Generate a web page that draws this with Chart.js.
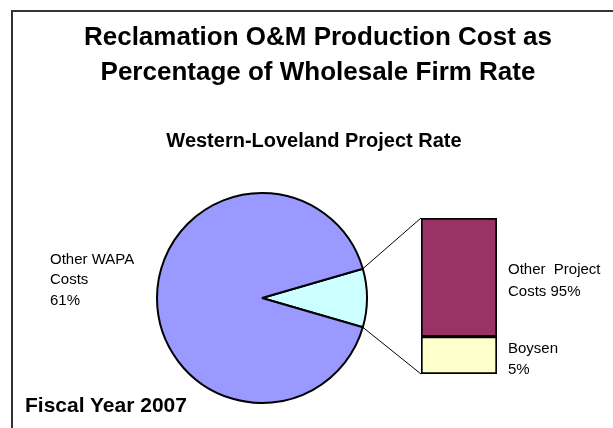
<!DOCTYPE html>
<html>
<head>
<meta charset="utf-8">
<script src="https://cdn.jsdelivr.net/npm/chart.js@4/dist/chart.umd.min.js"></script>
<style>
  html, body { margin: 0; padding: 0; background: #fff; }
  #wrap { position: relative; width: 613px; height: 428px; overflow: hidden; font-family: "Liberation Sans", Arial, sans-serif; color: #000; }
  #frame { position: absolute; left: 11px; top: 10px; width: 700px; height: 500px; border-left: 2px solid #333; border-top: 2px solid #333; }
  .t { position: absolute; white-space: pre; }
  #title { left: 0; width: 636px; top: 19px; text-align: center; font-weight: bold; font-size: 26px; line-height: 35px; }
  #sub { left: 0; width: 628px; top: 130px; text-align: center; font-weight: bold; font-size: 20px; line-height: 20px; }
  #fy { left: 25px; top: 394px; font-weight: bold; font-size: 21px; line-height: 21px; }
  #lblPie { left: 50px; top: 248.5px; font-size: 15px; line-height: 20.5px; }
  #lblTop { left: 508px; top: 258px; font-size: 15px; line-height: 22px; }
  #lblBot { left: 508px; top: 337px; font-size: 15px; line-height: 21px; }
  canvas { position: absolute; }
</style>
</head>
<body>
<div id="wrap">
  <div id="frame"></div>
  <canvas id="pie" width="212" height="212" style="left:156px;top:192px;width:212px;height:212px"></canvas>
  <canvas id="bar" width="78" height="158" style="left:420px;top:217px;width:78px;height:158px"></canvas>
  <canvas id="links" width="613" height="428" style="left:0;top:0;width:613px;height:428px"></canvas>
  <div class="t" id="title">Reclamation O&amp;M Production Cost as
Percentage of Wholesale Firm Rate</div>
  <div class="t" id="sub">Western-Loveland Project Rate</div>
  <div class="t" id="fy">Fiscal Year 2007</div>
  <div class="t" id="lblPie">Other WAPA
Costs
61%</div>
  <div class="t" id="lblTop">Other  Project
Costs 95%</div>
  <div class="t" id="lblBot">Boysen
5%</div>
</div>
<script>
// ---- data ----
const pieCategories = ["Western-Loveland Project", "Other WAPA Costs"];
const pieValues = [9, 91];
const barCategories = ["Project Rate"];
const barSeriesNames = ["Boysen", "Other Project Costs"];
const boysenValues = [24];
const otherProjectValues = [76];

const pieChart = new Chart(document.getElementById('pie'), {
  type: 'pie',
  data: {
    labels: pieCategories,
    datasets: [{
      data: pieValues,
      backgroundColor: ['#CCFFFF', '#9999FF'],
      borderColor: '#000',
      borderWidth: 2
    }]
  },
  options: {
    responsive: false,
    animation: false,
    rotation: 90 - 16.2,
    layout: { padding: 0 },
    plugins: { legend: { display: false }, tooltip: { enabled: false }, title: { display: false } }
  }
});

const barChart = new Chart(document.getElementById('bar'), {
  type: 'bar',
  data: {
    labels: barCategories,
    datasets: [
      { label: barSeriesNames[0], data: boysenValues, backgroundColor: '#FFFFCC', borderColor: '#000', borderWidth: 2, borderSkipped: false },
      { label: barSeriesNames[1], data: otherProjectValues, backgroundColor: '#993366', borderColor: '#000', borderWidth: 2, borderSkipped: false }
    ]
  },
  options: {
    responsive: false,
    animation: false,
    layout: { padding: 1 },
    datasets: { bar: { categoryPercentage: 1, barPercentage: 1 } },
    scales: {
      x: { stacked: true, display: false },
      y: { stacked: true, display: false, min: 0, max: 100 }
    },
    plugins: { legend: { display: false }, tooltip: { enabled: false } }
  }
});

// connector lines between the pie slice and the bar, from library geometry
(function drawLinks() {
  const pieCanvas = document.getElementById('pie');
  const barCanvas = document.getElementById('bar');
  const pOff = { x: pieCanvas.offsetLeft, y: pieCanvas.offsetTop };
  const bOff = { x: barCanvas.offsetLeft, y: barCanvas.offsetTop };
  const arc = pieChart.getDatasetMeta(0).data[0];
  const p = arc.getProps(['x', 'y', 'startAngle', 'endAngle', 'outerRadius'], true);
  const topBar = barChart.getDatasetMeta(1).data[0].getProps(['x', 'y', 'base', 'width'], true);
  const botBar = barChart.getDatasetMeta(0).data[0].getProps(['x', 'y', 'base', 'width'], true);
  const ctx = document.getElementById('links').getContext('2d');
  ctx.strokeStyle = '#000';
  ctx.lineWidth = 1;
  const sx1 = pOff.x + p.x + p.outerRadius * Math.cos(p.startAngle);
  const sy1 = pOff.y + p.y + p.outerRadius * Math.sin(p.startAngle);
  const sx2 = pOff.x + p.x + p.outerRadius * Math.cos(p.endAngle);
  const sy2 = pOff.y + p.y + p.outerRadius * Math.sin(p.endAngle);
  const tx = bOff.x + topBar.x - topBar.width / 2;
  const ty = bOff.y + topBar.y;
  const bx = bOff.x + botBar.x - botBar.width / 2;
  const by = bOff.y + botBar.base;
  ctx.beginPath();
  ctx.moveTo(sx1, sy1); ctx.lineTo(tx, ty);
  ctx.moveTo(sx2, sy2); ctx.lineTo(bx, by);
  ctx.stroke();
})();
</script>
</body>
</html>
